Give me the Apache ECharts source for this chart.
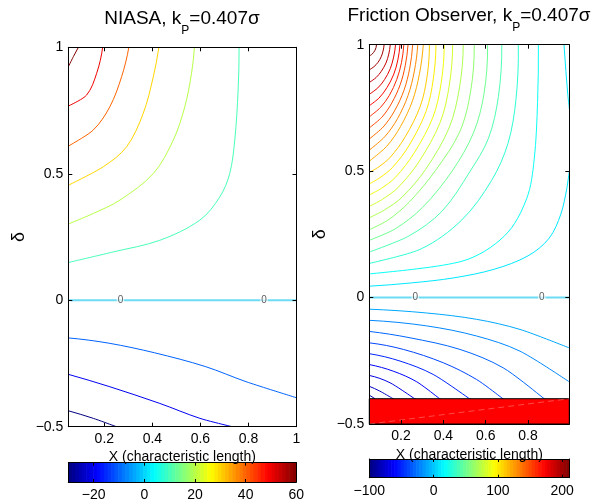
<!DOCTYPE html>
<html>
<head>
<meta charset="utf-8">
<script src="https://cdn.jsdelivr.net/npm/echarts@6/dist/echarts.min.js"></script>
<style>
  html, body { margin: 0; padding: 0; background: #fff; }
  #chart { width: 595px; height: 504px; }
</style>
</head>
<body>
<div id="chart"></div>
<script>
// ---------------- data ----------------
// x axis: characteristic length, y axis: delta
const niasaX = [0.05, 1];
const observerX = [0.05, 0.995];
const deltaRange = [-0.5, 1];
const niasaXTicks = [0.2, 0.4, 0.6, 0.8, 1];
const observerXTicks = [0.2, 0.4, 0.6, 0.8];

// colour scale limits of each panel
const niasaRange = [-30, 60];
const observerRange = [-100, 211];
const niasaBarTicks = [-20, 0, 20, 40, 60];
const observerBarTicks = [-100, 0, 100, 200];

// NIASA contour levels and their paths [x, delta]
const niasaLevels = [-30, -20, -10, 10, 20, 30, 40, 50, 60];
const niasaPaths = [
  [[0.05,-0.437],[0.154,-0.467],[0.251,-0.5]],
  [[0.05,-0.293],[0.223,-0.342],[0.431,-0.408],[0.598,-0.467],[0.729,-0.5]],
  [[0.05,-0.149],[0.22,-0.17],[0.41,-0.208],[0.62,-0.262],[0.79,-0.322],[1,-0.386]],
  [[0.761,1],[0.757,0.831],[0.743,0.633],[0.722,0.501],[0.681,0.409],[0.598,0.317],[0.431,0.237],[0.237,0.191],[0.05,0.149]],
  [[0.575,1],[0.563,0.897],[0.535,0.765],[0.487,0.633],[0.404,0.501],[0.265,0.396],[0.154,0.343],[0.05,0.301]],
  [[0.427,1],[0.404,0.884],[0.362,0.739],[0.293,0.607],[0.196,0.528],[0.05,0.453]],
  [[0.302,1],[0.272,0.884],[0.223,0.765],[0.154,0.673],[0.05,0.607]],
  [[0.193,1],[0.168,0.897],[0.126,0.811],[0.05,0.765]],
  [[0.092,1],[0.071,0.963],[0.05,0.923]]
];

// Friction observer contour levels and their paths [x, delta]
const observerLevels = [-90, -80, -70, -60, -50, -40, -30, -20, -10,
  10, 10, 20, 30, 40, 50, 60, 70, 80, 90, 100, 110, 120, 130, 140, 150, 160, 170, 180, 190, 200, 210];
const observerPaths = [
  [[0.05,-0.386],[0.077,-0.4]],
  [[0.05,-0.351],[0.1,-0.37],[0.163,-0.4]],
  [[0.05,-0.308],[0.148,-0.337],[0.266,-0.4]],
  [[0.05,-0.265],[0.163,-0.291],[0.274,-0.333],[0.384,-0.4]],
  [[0.05,-0.222],[0.195,-0.251],[0.352,-0.304],[0.526,-0.4]],
  [[0.05,-0.179],[0.211,-0.205],[0.4,-0.258],[0.557,-0.324],[0.683,-0.4]],
  [[0.05,-0.134],[0.242,-0.159],[0.478,-0.205],[0.683,-0.278],[0.88,-0.4]],
  [[0.05,-0.09],[0.321,-0.112],[0.557,-0.152],[0.762,-0.212],[0.995,-0.331]],
  [[0.05,-0.046],[0.321,-0.061],[0.557,-0.086],[0.762,-0.126],[0.995,-0.198]],
  [[0.05,0.045],[0.25,0.058],[0.45,0.078],[0.64,0.112],[0.8,0.165],[0.9,0.235],[0.955,0.33],[0.983,0.43],[0.995,0.497]],
  [[0.97,1],[0.979,0.894],[0.988,0.802],[0.995,0.749]],
  [[0.849,1],[0.845,0.772],[0.829,0.545],[0.793,0.39],[0.689,0.244],[0.489,0.144],[0.05,0.089]],
  [[0.754,1],[0.743,0.783],[0.705,0.609],[0.627,0.462],[0.486,0.306],[0.296,0.193],[0.05,0.132]],
  [[0.676,1],[0.66,0.795],[0.613,0.63],[0.526,0.499],[0.394,0.342],[0.238,0.244],[0.05,0.178]],
  [[0.609,1],[0.592,0.806],[0.542,0.651],[0.441,0.5],[0.302,0.357],[0.173,0.272],[0.05,0.225]],
  [[0.546,1],[0.529,0.817],[0.477,0.655],[0.362,0.502],[0.238,0.377],[0.139,0.307],[0.05,0.267]],
  [[0.494,1],[0.476,0.829],[0.427,0.671],[0.316,0.507],[0.205,0.397],[0.121,0.346],[0.05,0.315]],
  [[0.444,1],[0.428,0.84],[0.385,0.693],[0.286,0.539],[0.188,0.437],[0.113,0.389],[0.05,0.36]],
  [[0.404,1],[0.39,0.851],[0.351,0.714],[0.262,0.572],[0.174,0.476],[0.107,0.432],[0.05,0.405]],
  [[0.365,1],[0.352,0.862],[0.318,0.736],[0.239,0.603],[0.16,0.515],[0.1,0.474],[0.05,0.449]],
  [[0.334,1],[0.323,0.874],[0.291,0.757],[0.22,0.636],[0.149,0.555],[0.095,0.517],[0.05,0.494]],
  [[0.305,1],[0.287,0.885],[0.254,0.778],[0.198,0.677],[0.132,0.598],[0.05,0.538]],
  [[0.279,1],[0.263,0.896],[0.233,0.799],[0.183,0.707],[0.123,0.636],[0.05,0.582]],
  [[0.255,1],[0.241,0.907],[0.214,0.82],[0.169,0.738],[0.116,0.675],[0.05,0.626]],
  [[0.233,1],[0.22,0.918],[0.196,0.842],[0.156,0.769],[0.109,0.713],[0.05,0.67]],
  [[0.213,1],[0.202,0.929],[0.18,0.863],[0.145,0.8],[0.102,0.751],[0.05,0.714]],
  [[0.195,1],[0.185,0.94],[0.166,0.884],[0.134,0.831],[0.096,0.789],[0.05,0.758]],
  [[0.174,1],[0.165,0.951],[0.149,0.905],[0.122,0.862],[0.09,0.829],[0.05,0.803]],
  [[0.149,1],[0.142,0.963],[0.129,0.928],[0.107,0.895],[0.082,0.87],[0.05,0.85]],
  [[0.12,1],[0.115,0.975],[0.106,0.952],[0.091,0.93],[0.072,0.913],[0.05,0.9]],
  [[0.084,1],[0.082,0.989],[0.077,0.978],[0.07,0.969],[0.061,0.961],[0.05,0.955]]
];

// zero contour and where its "0" labels sit
const zeroLevel = 0;
const zeroLabelX = [0.267, 0.865];

// band of the observer panel filled solid
const observerBand = [[0.05, -0.5, 0.995, -0.4]];

// ---------------- styling helpers ----------------
const FONT = "'Liberation Sans', Arial, Helvetica, sans-serif";

function jet(t) {
  t = Math.max(0, Math.min(1, t));
  const c = v => Math.round(255 * Math.max(0, Math.min(1, v)));
  const r = c(1.5 - Math.abs(4 * t - 3));
  const g = c(1.5 - Math.abs(4 * t - 2));
  const b = c(1.5 - Math.abs(4 * t - 1));
  return 'rgb(' + r + ',' + g + ',' + b + ')';
}
const minus = v => String(v).replace('-', '\u2212');

function xAxes(grid, range, ticks, withName, barAxis) {
  const tickCfg = { inside: true, length: barAxis ? 3 : 4, customValues: ticks, lineStyle: { color: '#000' } };
  return [
    {
      gridIndex: grid, type: 'value', min: range[0], max: range[1], position: 'bottom', z: 6,
      name: withName ? 'X (characteristic length)' : '',
      nameLocation: 'middle', nameGap: 19,
      nameTextStyle: { fontSize: 14, color: '#000', fontFamily: FONT },
      axisLine: { onZero: false, lineStyle: { color: '#000', width: 1 } },
      axisTick: tickCfg,
      axisLabel: { customValues: ticks, margin: barAxis ? 6 : 5, fontSize: 14, color: '#000', fontFamily: FONT, formatter: minus },
      splitLine: { show: false }
    },
    {
      gridIndex: grid, type: 'value', min: range[0], max: range[1], position: 'top', z: 6,
      axisLine: { onZero: false, lineStyle: { color: '#000', width: 1 } },
      axisTick: tickCfg,
      axisLabel: { show: false }, splitLine: { show: false }
    }
  ];
}

function yAxes(grid, main) {
  const base = {
    gridIndex: grid, type: 'value', z: 6,
    min: main ? deltaRange[0] : 0, max: main ? deltaRange[1] : 1,
    interval: main ? 0.5 : 1,
    axisLine: { onZero: false, lineStyle: { color: '#000', width: 1 } },
    axisTick: { show: main, inside: true, length: 4, lineStyle: { color: '#000' } },
    splitLine: { show: false }
  };
  return [
    Object.assign({}, base, {
      position: 'left',
      name: main ? '\u03b4' : '', nameLocation: 'middle', nameGap: 40, nameRotate: 90,
      nameTextStyle: { fontSize: 18, color: '#000', fontFamily: FONT },
      axisLabel: { show: main, margin: 5, fontSize: 14, color: '#000', fontFamily: FONT, formatter: minus }
    }),
    Object.assign({}, base, { position: 'right', axisLabel: { show: false } })
  ];
}

// smooth curve through pixel points: cubic segments whose tangents follow the neighbours
function smoothSegments(pts, color) {
  const n = pts.length;
  const unit = v => { const l = Math.hypot(v[0], v[1]) || 1; return [v[0] / l, v[1] / l]; };
  const tan = [];
  for (let i = 0; i < n; i++) {
    if (i > 0 && i < n - 1) tan[i] = unit([pts[i + 1][0] - pts[i - 1][0], pts[i + 1][1] - pts[i - 1][1]]);
  }
  if (n === 2) {
    tan[0] = tan[1] = unit([pts[1][0] - pts[0][0], pts[1][1] - pts[0][1]]);
  } else {
    const ends = [[0, 1], [n - 1, n - 2]];
    ends.forEach(([e, m]) => {
      const d = unit([pts[m][0] - pts[e][0], pts[m][1] - pts[e][1]]);
      const t = tan[m];
      const k = 2 * (d[0] * t[0] + d[1] * t[1]);
      const r = [k * d[0] - t[0], k * d[1] - t[1]];
      tan[e] = e === 0 ? r : [-r[0], -r[1]];
    });
  }
  const segs = [];
  for (let i = 0; i < n - 1; i++) {
    const a = pts[i], b = pts[i + 1];
    const L = Math.hypot(b[0] - a[0], b[1] - a[1]) / 3;
    segs.push({
      type: 'bezierCurve',
      shape: {
        x1: a[0], y1: a[1], x2: b[0], y2: b[1],
        cpx1: a[0] + tan[i][0] * L, cpy1: a[1] + tan[i][1] * L,
        cpx2: b[0] - tan[i + 1][0] * L, cpy2: b[1] - tan[i + 1][1] * L
      },
      style: { stroke: color, lineWidth: 1, fill: null }
    });
  }
  return segs;
}

function contourSeries(levels, paths, range, axisIdx) {
  return paths.map((path, i) => {
    const color = jet((levels[i] - range[0]) / (range[1] - range[0]));
    return {
      type: 'custom', xAxisIndex: axisIdx, yAxisIndex: axisIdx, data: path, silent: true, z: 2,
      encode: { x: 0, y: 1 },
      renderItem: (params, api) => {
        if (params.dataIndex !== 0) return null;
        const cs = params.coordSys;
        return {
          type: 'group',
          clipPath: { type: 'rect', shape: { x: cs.x, y: cs.y, width: cs.width, height: cs.height } },
          children: smoothSegments(path.map(p => api.coord(p)), color)
        };
      }
    };
  });
}

function zeroSeries(xr, axisIdx) {
  return [
    {
      type: 'line', xAxisIndex: axisIdx, yAxisIndex: axisIdx, z: 3,
      data: [[xr[0], zeroLevel], [xr[1], zeroLevel]], showSymbol: false, silent: true,
      lineStyle: { width: 2, color: '#6cdcf4' }
    },
    {
      type: 'scatter', xAxisIndex: axisIdx, yAxisIndex: axisIdx, z: 4,
      data: zeroLabelX.map(x => [x, zeroLevel]), symbolSize: 0, silent: true,
      label: {
        show: true, position: 'inside', formatter: String(zeroLevel),
        fontSize: 10, color: '#333', fontFamily: FONT,
        backgroundColor: 'rgba(255,255,255,0.85)', padding: [0, 1, 0, 1]
      }
    }
  ];
}

// colour bar drawn as 64 cells of the jet map on its own value axis
function colorbarSeries(range, axisIdx) {
  const n = 64, cells = [];
  for (let i = 0; i < n; i++) {
    cells.push([range[0] + (range[1] - range[0]) * i / n, range[0] + (range[1] - range[0]) * (i + 1) / n, (i + 0.5) / n]);
  }
  return {
    type: 'custom', xAxisIndex: axisIdx, yAxisIndex: axisIdx, data: cells, silent: true, z: 1,
    encode: { x: [0, 1] },
    renderItem: (params, api) => {
      const a = api.coord([api.value(0), 1]);
      const b = api.coord([api.value(1), 0]);
      return {
        type: 'rect',
        shape: { x: a[0], y: a[1], width: b[0] - a[0] + 0.6, height: b[1] - a[1] },
        style: { fill: jet(api.value(2)) }
      };
    }
  };
}

const bandSeries = {
  type: 'custom', xAxisIndex: 2, yAxisIndex: 2, data: observerBand, silent: true, z: 5,
  encode: { x: [0, 2], y: [1, 3] },
  renderItem: (params, api) => {
    const a = api.coord([api.value(0), api.value(3)]);
    const b = api.coord([api.value(2), api.value(1)]);
    return {
      type: 'group',
      children: [
        { type: 'rect', shape: { x: a[0], y: a[1], width: b[0] - a[0], height: b[1] - a[1] },
          style: { fill: '#ff0000', stroke: '#000', lineWidth: 1 } },
        { type: 'line', shape: { x1: a[0], y1: b[1], x2: b[0], y2: a[1] },
          style: { stroke: 'rgba(255,210,210,0.35)', lineWidth: 1, lineDash: [6, 4] } }
      ]
    };
  }
};

// panel title with a lowered subscript
function title(text, x, y) {
  return {
    type: 'text', x: x, y: y, silent: true,
    style: {
      text: text, align: 'center', verticalAlign: 'middle',
      rich: {
        a: { fontSize: 19, lineHeight: 24, verticalAlign: 'top', fontFamily: FONT, fill: '#000' },
        s: { fontSize: 12, lineHeight: 12, verticalAlign: 'top', padding: [15, 0, 0, 0], fontFamily: FONT, fill: '#000' }
      }
    }
  };
}

const chart = echarts.init(document.getElementById('chart'), null, { renderer: 'canvas' });
chart.setOption({
  animation: false,
  backgroundColor: '#fff',
  grid: [
    { left: 68.3, top: 47.3, width: 228.2, height: 379.4 },
    { left: 369.3, top: 44.7, width: 200, height: 379.3 },
    { left: 68.3, top: 462.7, width: 228, height: 19.3 },
    { left: 369.3, top: 459, width: 200, height: 18.7 }
  ],
  xAxis: [].concat(
    xAxes(0, niasaX, niasaXTicks, true, false),
    xAxes(1, observerX, observerXTicks, true, false),
    xAxes(2, niasaRange, niasaBarTicks, false, true),
    xAxes(3, observerRange, observerBarTicks, false, true)
  ),
  yAxis: [].concat(yAxes(0, true), yAxes(1, true), yAxes(2, false), yAxes(3, false)),
  graphic: [
    title('{a|NIASA, k}{s|P}{a|=0.407\u03c3}', 182, 21.7),
    title('{a|Friction Observer, k}{s|P}{a|=0.407\u03c3}', 469, 18.3)
  ],
  series: [].concat(
    contourSeries(niasaLevels, niasaPaths, niasaRange, 0),
    zeroSeries(niasaX, 0),
    contourSeries(observerLevels, observerPaths, observerRange, 2),
    zeroSeries(observerX, 2),
    [bandSeries],
    [colorbarSeries(niasaRange, 4), colorbarSeries(observerRange, 6)]
  )
});
</script>
</body>
</html>
